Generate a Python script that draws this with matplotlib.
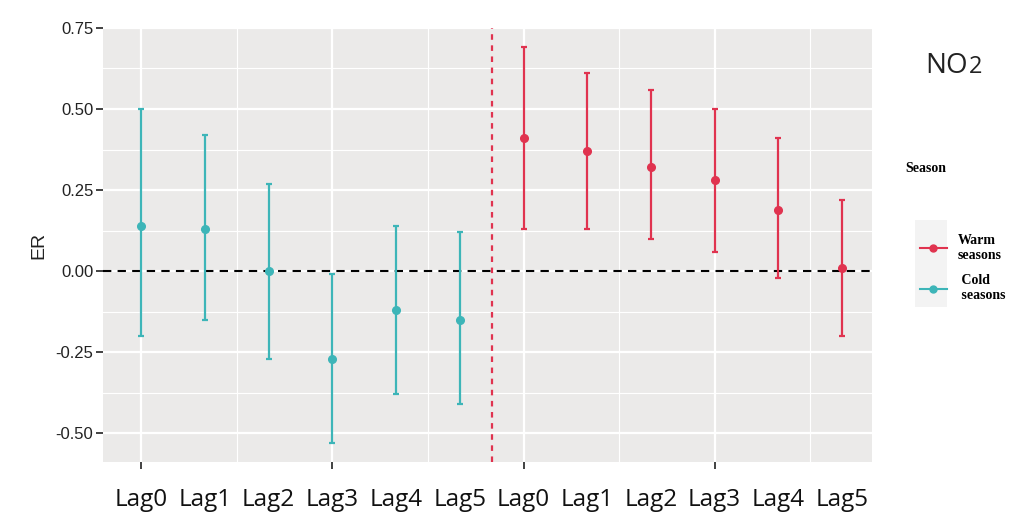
import numpy as np
import matplotlib
matplotlib.use('Agg')
import matplotlib.pyplot as plt
import matplotlib.transforms as mtransforms
from matplotlib.lines import Line2D
from matplotlib.patches import Rectangle

# values
lag_labels = ['Lag0', 'Lag1', 'Lag2', 'Lag3', 'Lag4', 'Lag5']

cold_est = [0.14, 0.13, 0.00, -0.27, -0.12, -0.15]
cold_low = [-0.20, -0.15, -0.27, -0.53, -0.38, -0.41]
cold_high = [0.50, 0.42, 0.27, -0.01, 0.14, 0.12]

warm_est = [0.41, 0.37, 0.32, 0.28, 0.19, 0.01]
warm_low = [0.13, 0.13, 0.10, 0.06, -0.02, -0.20]
warm_high = [0.69, 0.61, 0.56, 0.50, 0.41, 0.22]

cold_color = '#3DB5B8'
warm_color = '#E0334F'
panel_color = '#EBEAE9'


def draw_group(ax, xpos, est, low, high, color):
    est = np.array(est)
    yerr = [est - np.array(low), np.array(high) - est]
    ax.errorbar(xpos, est, yerr=yerr, fmt='o', color=color, ecolor=color,
                markersize=5.5, elinewidth=1.6, capsize=2.5, capthick=1.6, zorder=3)


def main():
    fig = plt.figure(figsize=(10.13, 5.21), dpi=100)
    ax = fig.add_axes([0.1017, 0.1132, 0.7591, 0.8331])
    ax.set_facecolor(panel_color)
    for s in ax.spines.values():
        s.set_visible(False)

    n = len(lag_labels)
    x_cold = np.arange(n)
    x_warm = np.arange(n, 2 * n)

    ax.set_xlim(-0.6, 11.47)
    ax.set_ylim(-0.589, 0.75)

    ax.set_xticks([0, 3, 6, 9])
    ax.set_xticks([1.5, 4.5, 7.5, 10.5], minor=True)
    ax.set_yticks([-0.5, -0.25, 0, 0.25, 0.5, 0.75])
    ax.set_yticks([-0.375, -0.125, 0.125, 0.375, 0.625], minor=True)
    ax.set_xticklabels([])
    ax.set_yticklabels(['-0.50', '-0.25', '0.00', '0.25', '0.50', '0.75'],
                       fontsize=12, color='#222222', family='Liberation Sans')
    ax.tick_params(axis='x', which='major', length=5, width=1.3, color='#333333')
    ax.tick_params(axis='y', which='major', length=5, width=1.3, color='#333333', pad=2)
    ax.tick_params(which='minor', length=0)
    ax.grid(which='major', color='white', linewidth=1.6)
    ax.grid(which='minor', color='white', linewidth=0.8)
    ax.set_axisbelow(True)

    ax.axhline(0, color='black', linestyle=(0, (4, 3)), linewidth=1.5, zorder=2)
    ax.axvline(5.5, color=warm_color, linestyle=(0, (2.5, 2.5)), linewidth=1.6, zorder=2)

    draw_group(ax, x_cold, cold_est, cold_low, cold_high, cold_color)
    draw_group(ax, x_warm, warm_est, warm_low, warm_high, warm_color)

    # lag labels placed under every point
    trans = mtransforms.blended_transform_factory(ax.transData, ax.transAxes)
    for xp, lab in zip(np.concatenate([x_cold, x_warm]), lag_labels + lag_labels):
        ax.text(xp, -0.088, lab, transform=trans, ha='center', va='center',
                fontsize=17.5, color='#111111', family='Open Sans')

    ax.set_ylabel('ER', fontsize=14, color='#222222', family='Liberation Sans', labelpad=6)

    # title top right, "2" set a little smaller on the same baseline
    fig.text(0.9555, 0.86, 'NO', fontsize=20, ha='right', va='baseline',
             family='Open Sans', color='#222222')
    fig.text(0.9565, 0.86, '2', fontsize=17, ha='left', va='baseline',
             family='Open Sans', color='#222222')

    fig.text(0.894, 0.677, 'Season', fontsize=10, fontweight='bold',
             family='Liberation Serif', ha='left', va='center')

    # legend key background
    fig.patches.append(Rectangle((0.903, 0.41), 0.032, 0.168, transform=fig.transFigure,
                                 facecolor='#F3F3F3', edgecolor='none', zorder=0))
    handles = [Line2D([], [], color=warm_color, marker='o', markersize=5, linewidth=1.5),
               Line2D([], [], color=cold_color, marker='o', markersize=5, linewidth=1.5)]
    fig.legend(handles, ['Warm\nseasons', ' Cold\n seasons'], loc='upper left',
               bbox_to_anchor=(0.896, 0.575), frameon=False, handlelength=1.9,
               handletextpad=0.8, labelspacing=0.9,
               prop={'family': 'Liberation Serif', 'weight': 'bold', 'size': 10})

    fig.savefig('out.png', dpi=100)


if __name__ == '__main__':
    main()
